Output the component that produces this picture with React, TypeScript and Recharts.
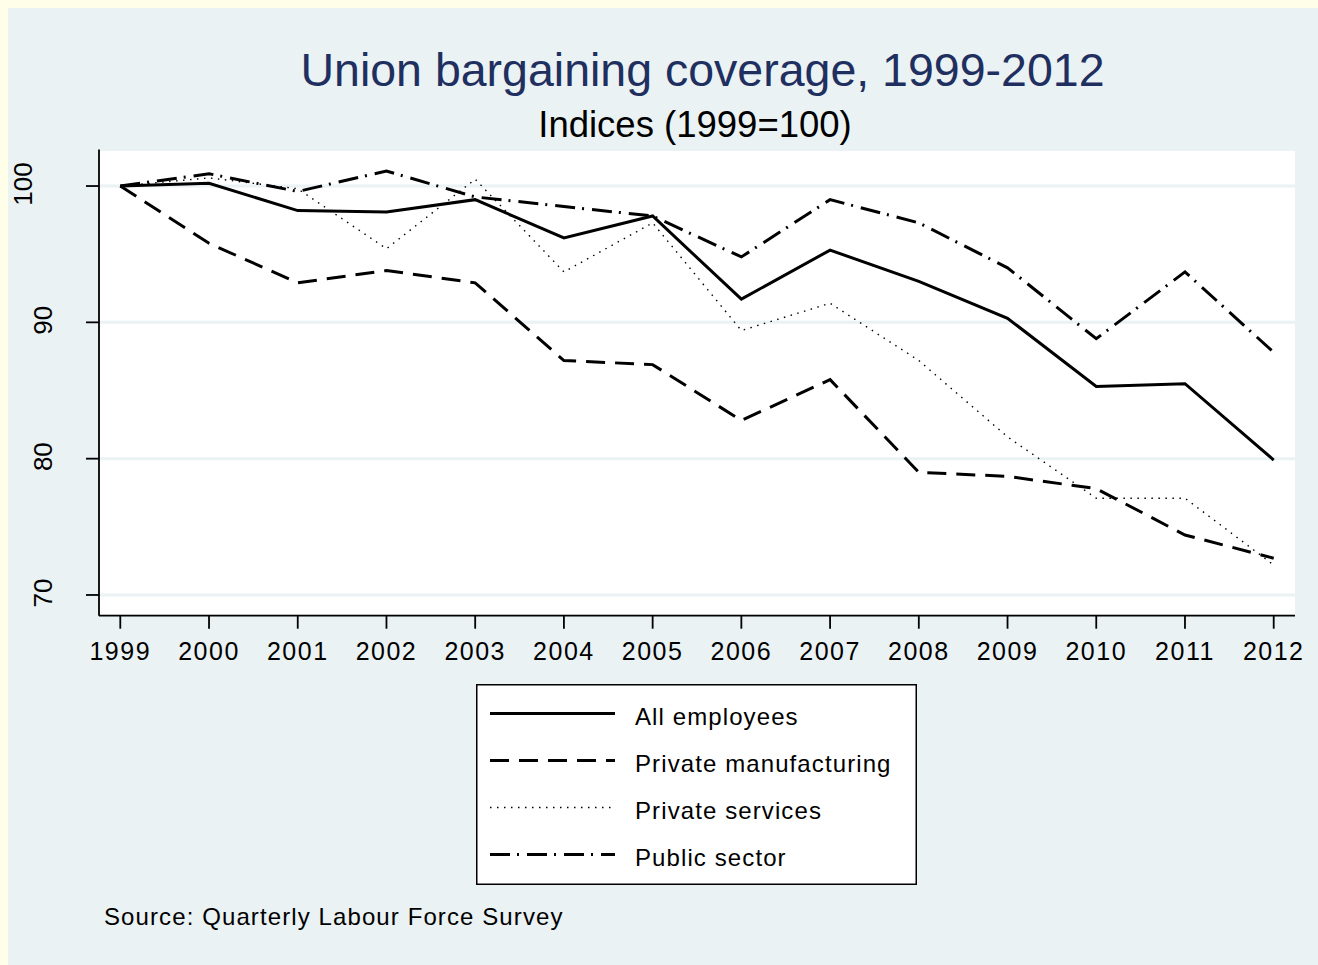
import React from "react";
import { LineChart, Line, XAxis, YAxis, CartesianGrid, Legend } from "recharts";

const years = [1999, 2000, 2001, 2002, 2003, 2004, 2005, 2006, 2007, 2008, 2009, 2010, 2011, 2012];
const allEmployees = [100, 100.2, 98.2, 98.1, 99.0, 96.2, 97.8, 91.7, 95.3, 93.0, 90.3, 85.3, 85.5, 79.9];
const privateManufacturing = [100, 95.8, 92.9, 93.8, 92.9, 87.2, 86.9, 82.8, 85.8, 79.0, 78.7, 77.8, 74.4, 72.7];
const privateServices = [100, 100.6, 99.8, 95.4, 100.5, 93.7, 97.3, 89.4, 91.4, 87.2, 81.6, 77.1, 77.1, 72.2];
const publicSector = [100, 100.9, 99.6, 101.1, 99.2, 98.5, 97.8, 94.8, 99.0, 97.3, 94.0, 88.8, 93.7, 87.8];
const yTicks = [70, 80, 90, 100];

const data = years.map((year, i) => ({
  year,
  all: allEmployees[i],
  manuf: privateManufacturing[i],
  services: privateServices[i],
  publicSec: publicSector[i],
}));

const FONT = "'Liberation Sans', Arial, Helvetica, sans-serif";

const series = [
  { key: "all", name: "All employees", width: 3, dash: undefined },
  { key: "manuf", name: "Private manufacturing", width: 3, dash: "19 10" },
  { key: "services", name: "Private services", width: 1.4, dash: "1.5 5.5" },
  { key: "publicSec", name: "Public sector", width: 3, dash: "20 7 2 8" },
];

// y labels are vertical, reading upwards
const YTick = (props: any) => {
  const { x, y, payload } = props;
  const label = String(payload.value);
  const shift = (label.length - 2) * 20;
  return (
    <text
      transform={`translate(${x - 32 - shift},${y - 2}) rotate(-90)`}
      textAnchor="middle"
      fontSize={26}
      fill="#000"
      fontFamily={FONT}
    >
      {label}
    </text>
  );
};

const renderLegend = () => (
  <svg width={441} height={201} style={{ display: "block" }}>
    <rect x={0.75} y={0.75} width={439.5} height={199.5} fill="#fff" stroke="#000" strokeWidth={1.5} />
    {series.map((s, i) => {
      const ly = 29.5 + i * 47;
      return (
        <g key={s.key}>
          <line x1={14} x2={139} y1={ly} y2={ly} stroke="#000" strokeWidth={s.width} strokeDasharray={s.dash} />
          <text x={159} y={41 + i * 47} fontSize={24} letterSpacing={1.1} fill="#000" fontFamily={FONT}>
            {s.name}
          </text>
        </g>
      );
    })}
  </svg>
);

export default function App() {
  return (
    <div
      style={{
        position: "absolute",
        left: 0,
        top: 0,
        width: 1318,
        height: 965,
        background: "#FFFEE9",
        overflow: "hidden",
        fontFamily: FONT,
      }}
    >
      <div style={{ position: "absolute", left: 8, top: 8, width: 1310, height: 957, background: "#EAF2F3" }}>
        <LineChart width={1310} height={957} data={data} margin={{ top: 141.5, right: 23, bottom: 299.3, left: 0 }}>
          <CartesianGrid vertical={false} fill="#fff" fillOpacity={1} stroke="#EAF2F3" strokeWidth={3} />
          <XAxis
            dataKey="year"
            type="number"
            domain={[1998.76, 2012.24]}
            ticks={years}
            interval={0}
            height={50}
            tickSize={13}
            tickMargin={14}
            axisLine={{ stroke: "#000", strokeWidth: 1.8 }}
            tickLine={{ stroke: "#000", strokeWidth: 1.8 }}
            tick={{ fontSize: 25, fill: "#000", letterSpacing: 1.5 }}
          />
          <YAxis
            type="number"
            domain={[68.48, 102.68]}
            ticks={yTicks}
            interval={0}
            width={91}
            tickSize={13}
            axisLine={{ stroke: "#000", strokeWidth: 1.8 }}
            tickLine={{ stroke: "#000", strokeWidth: 1.8 }}
            tick={YTick}
          />
          {series.map((s) => (
            <Line
              key={s.key}
              dataKey={s.key}
              name={s.name}
              type="linear"
              stroke="#000"
              strokeWidth={s.width}
              strokeDasharray={s.dash}
              dot={false}
              activeDot={false}
              isAnimationActive={false}
            />
          ))}
          <Legend
            content={renderLegend}
            layout="horizontal"
            verticalAlign="middle"
            align="center"
            wrapperStyle={{ left: 468, top: 676, width: 441, height: 201 }}
          />
        </LineChart>
      </div>
      <div
        style={{
          position: "absolute",
          left: 202.5,
          width: 1000,
          top: 47.4,
          textAlign: "center",
          fontSize: 46.5,
          lineHeight: "46.5px",
          color: "#1F2F5F",
          whiteSpace: "nowrap",
        }}
      >
        Union bargaining coverage, 1999-2012
      </div>
      <div
        style={{
          position: "absolute",
          left: 395,
          width: 600,
          top: 107.4,
          textAlign: "center",
          fontSize: 36.5,
          lineHeight: "36.5px",
          color: "#000",
          whiteSpace: "nowrap",
        }}
      >
        Indices (1999=100)
      </div>
      <div
        style={{
          position: "absolute",
          left: 104,
          top: 904.7,
          fontSize: 24,
          lineHeight: "24px",
          letterSpacing: 1.1,
          color: "#000",
          whiteSpace: "nowrap",
        }}
      >
        Source: Quarterly Labour Force Survey
      </div>
    </div>
  );
}
